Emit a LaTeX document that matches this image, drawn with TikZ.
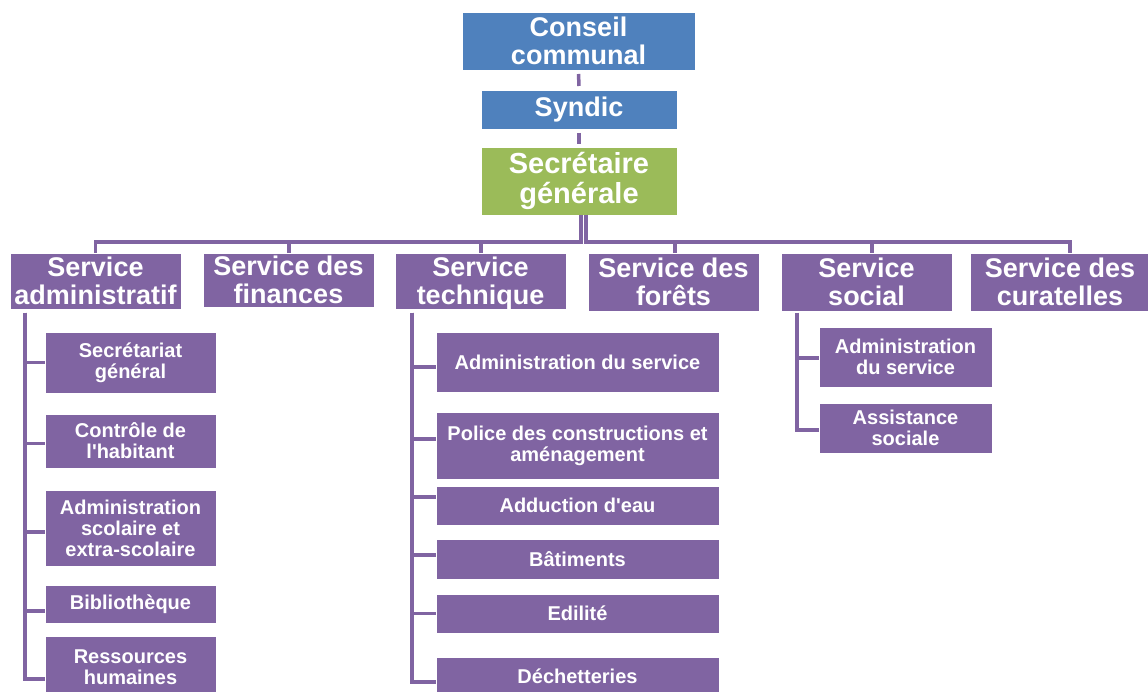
\documentclass[tikz,border=0pt]{standalone}
\usepackage{fontspec}
\newfontfamily\lsans{Liberation Sans}
\definecolor{blu}{HTML}{4F81BD}
\definecolor{grn}{HTML}{9BBB59}
\definecolor{purp}{HTML}{8064A2}
\begin{document}
\begin{tikzpicture}[x=1pt,y=-1pt,
  box/.style={rectangle, inner sep=0pt, outer sep=0pt, text=white, align=center, draw=white, line width=0.6pt},
  bigbox/.style={box, font=\lsans\fontsize{27}{28}\selectfont\bfseries},
  secbox/.style={box, font=\lsans\fontsize{29}{30}\selectfont\bfseries},
  subbox/.style={box, fill=purp, font=\lsans\fontsize{20}{21}\selectfont\bfseries},
  svc/.style={bigbox, fill=purp, text depth=0pt},
  link/.style={draw=purp, line width=3.5pt}]
\clip (0,0) rectangle (1148,692);
\fill[white] (0,0) rectangle (1148,692);

% top chain
\node[bigbox, fill=blu, minimum width=233pt, minimum height=58pt] (cons) at (578.5,41) {Conseil\\communal};
\node[bigbox, fill=blu, minimum width=196pt, minimum height=39pt] (syn) at (579,109.5) {Syndic};
\node[secbox, fill=grn, minimum width=196pt, minimum height=68pt] (sec) at (579,181) {Secrétaire\\générale};

% services
\node[svc, minimum width=171pt, minimum height=56pt] (adm) at (95.5,281) {Service\\administratif};
\node[svc, minimum width=171pt, minimum height=54pt] (fin) at (288.5,280) {Service des\\finances};
\node[svc, minimum width=171pt, minimum height=56pt] (tec) at (480.5,281) {Service\\technique};
\node[svc, minimum width=171pt, minimum height=58pt] (for) at (673.5,282) {Service des\\forêts};
\node[svc, minimum width=171pt, minimum height=58pt] (soc) at (866.5,282) {Service\\social};
\node[svc, minimum width=180pt, minimum height=58pt] (cur) at (1060,282) {Service des\\curatelles};

% administratif children
\node[subbox, minimum width=171pt, minimum height=61pt] (a1) at (130.5,362.5) {Secrétariat\\général};
\node[subbox, minimum width=171pt, minimum height=54pt] (a2) at (130.5,441) {Contrôle de\\l'habitant};
\node[subbox, minimum width=171pt, minimum height=76pt] (a3) at (130.5,528) {Administration\\scolaire et\\extra-scolaire};
\node[subbox, minimum width=171pt, minimum height=38pt] (a4) at (130.5,604) {Bibliothèque};
\node[subbox, minimum width=171pt, minimum height=62pt] (a5) at (130.5,667) {Ressources\\humaines};

% technique children
\node[subbox, minimum width=283pt, minimum height=60pt] (t1) at (577.5,362) {Administration du service};
\node[subbox, minimum width=283pt, minimum height=67pt] (t2) at (577.5,445.5) {Police des constructions et\\aménagement};
\node[subbox, minimum width=283pt, minimum height=39pt] (t3) at (577.5,505.5) {Adduction d'eau};
\node[subbox, minimum width=283pt, minimum height=40pt] (t4) at (577.5,559) {Bâtiments};
\node[subbox, minimum width=283pt, minimum height=39pt] (t5) at (577.5,613.5) {Edilité};
\node[subbox, minimum width=283pt, minimum height=38pt] (t6) at (577.5,676) {Déchetteries};

% social children
\node[subbox, minimum width=173pt, minimum height=60pt] (s1) at (905.5,357) {Administration\\du service};
\node[subbox, minimum width=173pt, minimum height=50pt] (s2) at (905.5,428) {Assistance\\sociale};

% connectors top
\draw[link, shorten <=4pt, shorten >=4pt] (cons.south) -- (syn.north);
\draw[link, shorten <=4pt, shorten >=3pt] (syn.south) -- (sec.north);

% secretaire to services
\draw[link] ([xshift=2pt]sec.south) -- ++(0,27) -| (adm.north);
\draw[link] ([xshift=2pt]sec.south) -- ++(0,27) -| ([xshift=0.5pt]fin.north);
\draw[link] ([xshift=2pt]sec.south) -- ++(0,27) -| ([xshift=0.5pt]tec.north);
\draw[link] ([xshift=7pt]sec.south) -- ++(0,27) -| ([xshift=1.5pt]for.north);
\draw[link] ([xshift=7pt]sec.south) -- ++(0,27) -| ([xshift=5.5pt]soc.north);
\draw[link] ([xshift=7pt]sec.south) -- ++(0,27) -| ([xshift=10pt]cur.north);

% administratif branch
\coordinate (va) at ([xshift=15pt,yshift=-4pt]adm.south west);
\draw[link] (va) |- ([yshift=0pt]a1.west);
\draw[link] (va) |- ([yshift=-2.5pt]a2.west);
\draw[link] (va) |- ([yshift=-4pt]a3.west);
\draw[link] (va) |- ([yshift=-7pt]a4.west);
\draw[link] (va) |- ([yshift=-12pt]a5.west);

% technique branch
\coordinate (vt) at ([xshift=17pt,yshift=-4pt]tec.south west);
\draw[link] (vt) |- ([yshift=-5pt]t1.west);
\draw[link] (vt) |- ([yshift=6.5pt]t2.west);
\draw[link] (vt) |- ([yshift=8.5pt]t3.west);
\draw[link] (vt) |- ([yshift=4pt]t4.west);
\draw[link] (vt) |- ([yshift=0pt]t5.west);
\draw[link] (vt) |- ([yshift=-6pt]t6.west);

% social branch
\coordinate (vs) at ([xshift=16pt,yshift=-2pt]soc.south west);
\draw[link] (vs) |- ([yshift=-1pt]s1.west);
\draw[link] (vs) |- ([yshift=-2pt]s2.west);
\end{tikzpicture}
\end{document}
